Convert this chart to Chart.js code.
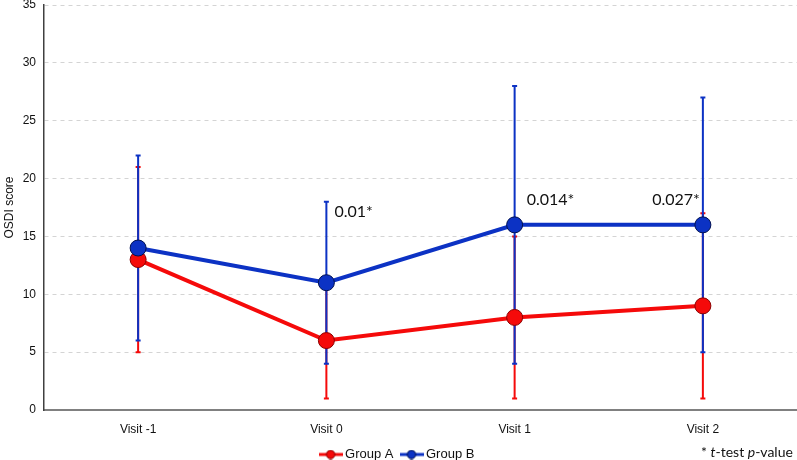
<!DOCTYPE html>
<html>
<head>
<meta charset="utf-8">
<script src="https://cdn.jsdelivr.net/npm/chart.js@4"></script>
<style>
  html, body { margin: 0; padding: 0; background: #fff; overflow: hidden; }
  #wrap { width: 797px; height: 460px; position: relative; }
</style>
</head>
<body>
<div id="wrap"><canvas id="chart"></canvas></div>
<script>
var visits = ['Visit -1', 'Visit 0', 'Visit 1', 'Visit 2'];
var groupA = [13, 6, 8, 9];
var groupB = [14, 11, 16, 16];
// spread for the bars (symmetric, read from the caps)
var sdA = [8, 5, 7, 8];
var sdB = [8, 7, 12, 11];
var pLabels = ['', '0.01*', '0.014*', '0.027*'];
var pLabelY = [null, 17.1, 18.2, 18.2];
var yTicks = [0, 5, 10, 15, 20, 25, 30, 35];

var redCol = '#f50a0a';
var blueCol = '#0c32c4';

// little line + dot picture for the legend
function legendIcon(col, border){
    var c = document.createElement('canvas');
    c.width = 24; c.height = 10;
    var g = c.getContext('2d');
    g.strokeStyle = col; g.lineWidth = 3;
    g.beginPath(); g.moveTo(0, 5); g.lineTo(24, 5); g.stroke();
    g.fillStyle = col; g.strokeStyle = border; g.lineWidth = 1;
    g.beginPath(); g.arc(12, 5, 4.2, 0, Math.PI * 2); g.fill(); g.stroke();
    return c;
}

var errorBars = {
    id: 'errorBars',
    beforeDatasetsDraw: function(chart){
        var ctx = chart.ctx;
        var yS = chart.scales.y;
        var list = [[0, sdA, redCol], [1, sdB, blueCol]];
        list.forEach(function(it){
            var meta = chart.getDatasetMeta(it[0]);
            var vals = chart.data.datasets[it[0]].data;
            ctx.save();
            ctx.strokeStyle = it[2];
            ctx.lineWidth = 2;
            meta.data.forEach(function(pt, i){
                var top = yS.getPixelForValue(vals[i] + it[1][i]);
                var bot = yS.getPixelForValue(vals[i] - it[1][i]);
                ctx.beginPath();
                ctx.moveTo(pt.x, top); ctx.lineTo(pt.x, bot);
                ctx.moveTo(pt.x - 2.5, top); ctx.lineTo(pt.x + 2.5, top);
                ctx.moveTo(pt.x - 2.5, bot); ctx.lineTo(pt.x + 2.5, bot);
                ctx.stroke();
            });
            ctx.restore();
        });
    },
    afterDraw: function(chart){
        var ctx = chart.ctx;
        var meta = chart.getDatasetMeta(1);
        var yS = chart.scales.y;
        ctx.save();
        ctx.fillStyle = '#111';
        ctx.font = '16px Lato';
        ctx.textBaseline = 'middle';
        meta.data.forEach(function(pt, i){
            if(pLabels[i] == '') return;
            var w = ctx.measureText(pLabels[i]).width;
            var x = i == 3 ? pt.x - 3 - w : pt.x + (i == 1 ? 8 : 12);
            ctx.fillText(pLabels[i], x, yS.getPixelForValue(pLabelY[i]));
        });
        // footnote
        var x = 701;
        var parts = [['* ', ''], ['t', 'italic '], ['-test ', ''], ['p', 'italic '], ['-value', '']];
        parts.forEach(function(p){
            ctx.font = p[1] + '14px Lato';
            ctx.fillText(p[0], x, 452);
            x += ctx.measureText(p[0]).width;
        });
        ctx.restore();
    }
};

new Chart(document.getElementById('chart'), {
    type: 'line',
    data: {
        labels: visits,
        datasets: [{
            label: 'Group A',
            data: groupA,
            borderColor: redCol,
            backgroundColor: redCol,
            pointBackgroundColor: redCol,
            pointBorderColor: '#8a0000',
            borderWidth: 4,
            pointRadius: 8,
            pointBorderWidth: 1,
            order: 2
        }, {
            label: 'Group B',
            data: groupB,
            borderColor: blueCol,
            backgroundColor: blueCol,
            pointBackgroundColor: blueCol,
            pointBorderColor: '#001050',
            borderWidth: 4,
            pointRadius: 8,
            pointBorderWidth: 1,
            order: 1
        }]
    },
    options: {
        responsive: true,
        maintainAspectRatio: false,
        animation: false,
        layout: { padding: { top: 0, left: 0, right: 0, bottom: -11 }, autoPadding: false },
        plugins: {
            tooltip: { enabled: false },
            legend: {
                position: 'bottom',
                labels: {
                    usePointStyle: true,
                    pointStyleWidth: 16,
                    boxHeight: 10,
                    padding: 10,
                    color: '#111',
                    font: { family: 'Liberation Sans', size: 13 },
                    generateLabels: function(chart){
                        return chart.data.datasets.map(function(ds, i){
                            return {
                                text: ds.label,
                                pointStyle: legendIcon(ds.borderColor, ds.pointBorderColor),
                                datasetIndex: i,
                                fontColor: '#111',
                                lineWidth: 0,
                                strokeStyle: 'transparent',
                                fillStyle: 'transparent'
                            };
                        });
                    }
                }
            }
        },
        scales: {
            x: {
                offset: true,
                grid: { display: false, drawTicks: false },
                border: { color: '#808080', width: 2 },
                ticks: { color: '#111', padding: 12, font: { family: 'Liberation Sans', size: 12 } },
                afterFit: function(axis){
                    axis.height = 28;
                    axis.paddingLeft = 0;
                    axis.paddingRight = 0;
                }
            },
            y: {
                min: 0,
                max: 35,
                afterBuildTicks: function(axis){
                    axis.ticks = yTicks.map(function(v){ return { value: v }; });
                },
                grid: { color: '#d4d4d4', drawTicks: false },
                border: { color: '#404040', width: 1.5, dash: [4, 4] },
                ticks: { color: '#111', padding: 8, font: { family: 'Liberation Sans', size: 12 } },
                title: { display: true, text: 'OSDI score', color: '#111', font: { family: 'Liberation Sans', size: 12 }, padding: 2 },
                afterFit: function(axis){
                    axis.width = 44;
                    axis.paddingTop = 5;
                }
            }
        }
    },
    plugins: [errorBars]
});
</script>
</body>
</html>
